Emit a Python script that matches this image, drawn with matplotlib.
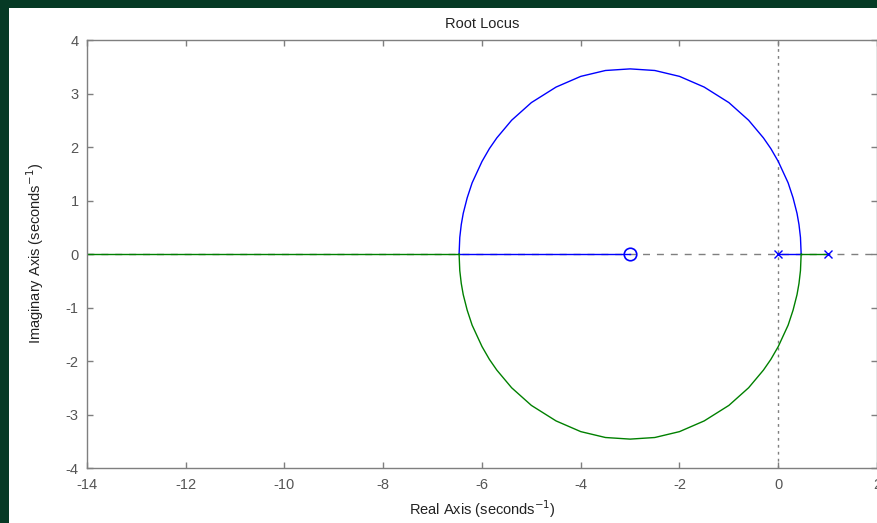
import matplotlib
matplotlib.use("Agg")
import matplotlib.pyplot as plt
from matplotlib.patches import Rectangle

plt.rcParams['font.family'] = ['Liberation Sans', 'DejaVu Sans']

## locus data (upper branch, lower one is its conjugate)
arc_x = [0.464, 0.45, 0.42, 0.38, 0.30, 0.20, 0.0, -0.15, -0.30, -0.60, -1.0, -1.5,
         -2.0, -2.5, -3.0, -3.5, -4.0, -4.5, -5.0, -5.4, -5.7, -5.85, -6.0,
         -6.2, -6.3, -6.38, -6.42, -6.45, -6.464]
arc_y = [0.0, 0.31, 0.55, 0.76, 1.05, 1.33, 1.73, 1.97, 2.17, 2.50, 2.83, 3.12,
         3.32, 3.43, 3.46, 3.43, 3.32, 3.12, 2.83, 2.50, 2.17, 1.97, 1.73,
         1.33, 1.05, 0.76, 0.55, 0.31, 0.0]
arc_y_low = [-v for v in arc_y]

blue_real_x = [-6.464, -3.0]     # branch 1 on real axis, into the zero
blue_seg_x = [0.0, 0.464]        # from pole at 0 to breakaway
green_seg_x = [1.0, 0.464]       # from pole at 1 to breakaway
green_real_x = [-6.464, -14.0]   # branch 2 off to -inf

poles = [0.0, 1.0]
zeros = [-3.0]

xticks = [-14, -12, -10, -8, -6, -4, -2, 0, 2]
yticks = [-4, -3, -2, -1, 0, 1, 2, 3, 4]

BLUE = '#0000ff'
GREEN = '#008000'
GREY = '#7f7f7f'

fig = plt.figure(figsize=(8.78, 5.23), dpi=100, facecolor='#063a25')
# white panel inside the dark green frame
fig.patches.append(Rectangle((9 / 878, 0), 1, 1 - 8 / 523, transform=fig.transFigure,
                             facecolor='white', edgecolor='none', zorder=-5))

ax = fig.add_axes([87 / 878, 1 - 468 / 523, (877 - 87) / 878, (468 - 40) / 523])
ax.set_zorder(2)

# reference lines through origin
ax.axhline(0, color=GREY, lw=1.0, ls=(0, (5, 5)), zorder=1)
ax.axvline(0, color=GREY, lw=1.0, ls=(0, (2, 3)), zorder=1)

ax.plot(arc_x, arc_y, color=BLUE, lw=1.0, zorder=2)
ax.plot(blue_real_x, [0, 0], color=BLUE, lw=1.0, zorder=2)
ax.plot(blue_seg_x, [0, 0], color=BLUE, lw=1.0, zorder=2)
ax.plot(arc_x, arc_y_low, color=GREEN, lw=1.0, zorder=2)
ax.plot(green_seg_x, [0, 0], color=GREEN, lw=1.0, zorder=2)
ax.plot(green_real_x, [0, 0], color=GREEN, lw=1.0, zorder=2)

ax.plot(poles, [0] * len(poles), ls='none', marker='x', ms=6, mew=1.0, color=BLUE, zorder=3)
ax.plot(zeros, [0] * len(zeros), ls='none', marker='o', ms=9, mew=1.2,
        mfc='none', mec=BLUE, zorder=3)

ax.set_xlim(-14, 2)
ax.set_ylim(-4, 4)
ax.set_xticks(xticks)
ax.set_yticks(yticks)
ax.set_xticklabels([str(t) for t in xticks])
ax.set_yticklabels([str(t) for t in yticks])

for sp in ax.spines.values():
    sp.set_color(GREY)
    sp.set_linewidth(1.0)
ax.tick_params(direction='in', length=4, width=1.0, color=GREY, labelcolor='#555555',
               labelsize=10.5, top=True, right=True, pad=6)
ax.tick_params(axis='x', pad=7)

ax.set_title('Root Locus', fontsize=10.5, color='#222222', pad=9)
ax.set_xlabel('Real Axis (seconds$^{-1}$)', fontsize=10.5, color='#222222', labelpad=5)
ax.set_ylabel('Imaginary Axis (seconds$^{-1}$)', fontsize=10.5, color='#222222', labelpad=14)

fig.savefig('out.png', dpi=100, facecolor=fig.get_facecolor())
